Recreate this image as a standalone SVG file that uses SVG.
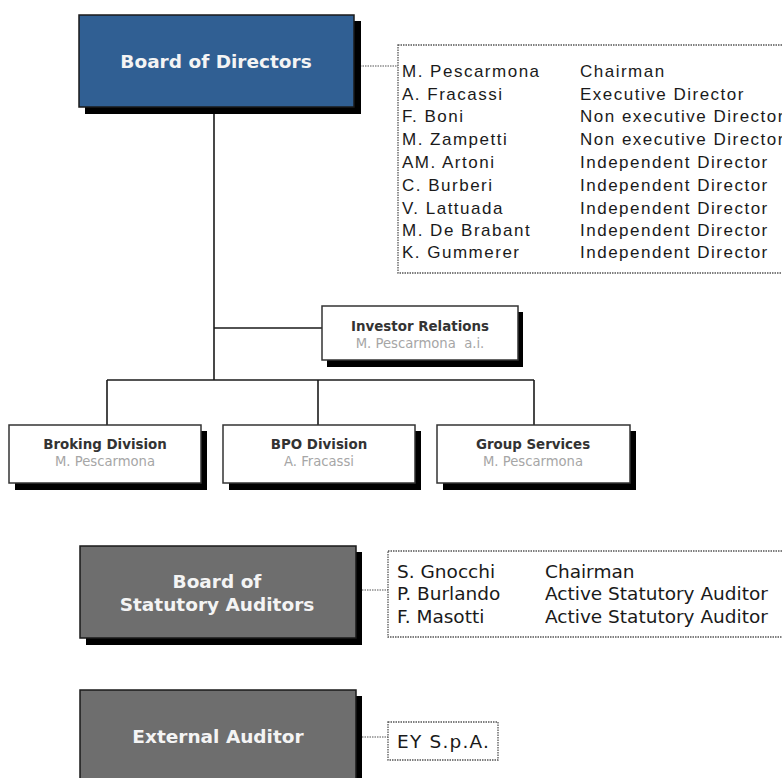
<svg xmlns="http://www.w3.org/2000/svg" width="782" height="778" viewBox="0 0 782 778">
  <style>
    .shadow { fill: #000; }
    .main-blue { fill: #305f93; stroke: #1a1a1a; stroke-width: 1.5; }
    .main-gray { fill: #6e6e6e; stroke: #1a1a1a; stroke-width: 1.5; }
    .unit { fill: #fff; stroke: #333; stroke-width: 1.5; }
    .title { font-family: "DejaVu Sans", Verdana, sans-serif; font-weight: bold; font-size: 18.5px; fill: #f4f4f4; text-anchor: middle; }
    .unit-title { font-family: "DejaVu Sans", Verdana, sans-serif; font-weight: bold; font-size: 13.4px; fill: #333; text-anchor: middle; }
    .unit-name { font-family: "DejaVu Sans", Verdana, sans-serif; font-size: 13.2px; fill: #a6a6a6; text-anchor: middle; }
    .list { font-family: "Liberation Sans", Arial, sans-serif; font-size: 17px; letter-spacing: 1.5px; fill: #1a1a1a; }
    .list2 { font-family: "DejaVu Sans", Verdana, sans-serif; font-size: 18.5px; fill: #1a1a1a; }
    .dotted { fill: #fff; stroke: #555; stroke-width: 1.3; stroke-dasharray: 1.5 1; }
    .link { fill: none; stroke: #1a1a1a; stroke-width: 1.6; }
    .dotlink { fill: none; stroke: #555; stroke-width: 1.2; stroke-dasharray: 1.5 1; }
  </style>

  <!-- connectors -->
  <g id="connectors">
    <path class="link" d="M214 108 V380"/>
    <path class="link" d="M214 328 H322"/>
    <path class="link" d="M107 380 H534"/>
    <path class="link" d="M107 380 V425"/>
    <path class="link" d="M318 380 V425"/>
    <path class="link" d="M534 380 V425"/>
    <path class="dotlink" d="M360 66 H398"/>
    <path class="dotlink" d="M362 590 H388"/>
    <path class="dotlink" d="M362 737 H388"/>
  </g>

  <!-- Board of Directors -->
  <g id="board-of-directors">
    <rect class="shadow" x="85" y="21" width="276" height="93"/>
    <rect class="main-blue" x="79" y="15" width="275" height="92"/>
    <text class="title" x="216" y="68">Board of Directors</text>
  </g>

  <!-- Directors list -->
  <g id="directors-list">
    <rect class="dotted" x="398" y="45" width="400" height="228"/>
    <g class="list">
      <text x="402" y="77">M. Pescarmona</text><text x="580" y="77">Chairman</text>
      <text x="402" y="100">A. Fracassi</text><text x="580" y="100">Executive Director</text>
      <text x="402" y="122">F. Boni</text><text x="580" y="122">Non executive Director</text>
      <text x="402" y="145">M. Zampetti</text><text x="580" y="145">Non executive Director</text>
      <text x="402" y="168">AM. Artoni</text><text x="580" y="168">Independent Director</text>
      <text x="402" y="191">C. Burberi</text><text x="580" y="191">Independent Director</text>
      <text x="402" y="214">V. Lattuada</text><text x="580" y="214">Independent Director</text>
      <text x="402" y="236">M. De Brabant</text><text x="580" y="236">Independent Director</text>
      <text x="402" y="258">K. Gummerer</text><text x="580" y="258">Independent Director</text>
    </g>
  </g>

  <!-- Investor Relations -->
  <g id="investor-relations">
    <rect class="shadow" x="327" y="312" width="196" height="55"/>
    <rect class="unit" x="322" y="306" width="196" height="54"/>
    <text class="unit-title" x="420" y="331">Investor Relations</text>
    <text class="unit-name" x="420" y="348" xml:space="preserve">M. Pescarmona  a.i.</text>
  </g>

  <!-- Divisions -->
  <g id="broking-division">
    <rect class="shadow" x="15" y="431" width="192" height="59"/>
    <rect class="unit" x="9" y="425" width="192" height="58"/>
    <text class="unit-title" x="105" y="449">Broking Division</text>
    <text class="unit-name" x="105" y="466">M. Pescarmona</text>
  </g>

  <g id="bpo-division">
    <rect class="shadow" x="229" y="431" width="192" height="59"/>
    <rect class="unit" x="223" y="425" width="192" height="58"/>
    <text class="unit-title" x="319" y="449">BPO Division</text>
    <text class="unit-name" x="319" y="466">A. Fracassi</text>
  </g>

  <g id="group-services">
    <rect class="shadow" x="443" y="431" width="193" height="59"/>
    <rect class="unit" x="437" y="425" width="193" height="58"/>
    <text class="unit-title" x="533" y="449">Group Services</text>
    <text class="unit-name" x="533" y="466">M. Pescarmona</text>
  </g>

  <!-- Board of Statutory Auditors -->
  <g id="statutory-auditors">
    <rect class="shadow" x="86" y="552" width="276" height="93"/>
    <rect class="main-gray" x="80" y="546" width="276" height="92"/>
    <text class="title" x="217" y="588">Board of</text>
    <text class="title" x="217" y="611">Statutory Auditors</text>
  </g>

  <g id="auditors-list">
    <rect class="dotted" x="388" y="551" width="410" height="86"/>
    <g class="list2">
      <text x="397" y="578">S. Gnocchi</text><text x="545" y="578">Chairman</text>
      <text x="397" y="600">P. Burlando</text><text x="545" y="600">Active Statutory Auditor</text>
      <text x="397" y="623">F. Masotti</text><text x="545" y="623">Active Statutory Auditor</text>
    </g>
  </g>

  <!-- External Auditor -->
  <g id="external-auditor">
    <rect class="shadow" x="86" y="696" width="276" height="92"/>
    <rect class="main-gray" x="80" y="690" width="276" height="100"/>
    <text class="title" x="218" y="743">External Auditor</text>
  </g>

  <g id="ey">
    <rect class="dotted" x="388" y="722" width="110" height="38"/>
    <text class="list2" x="397" y="748" style="letter-spacing:1.2px">EY S.p.A.</text>
  </g>
</svg>
